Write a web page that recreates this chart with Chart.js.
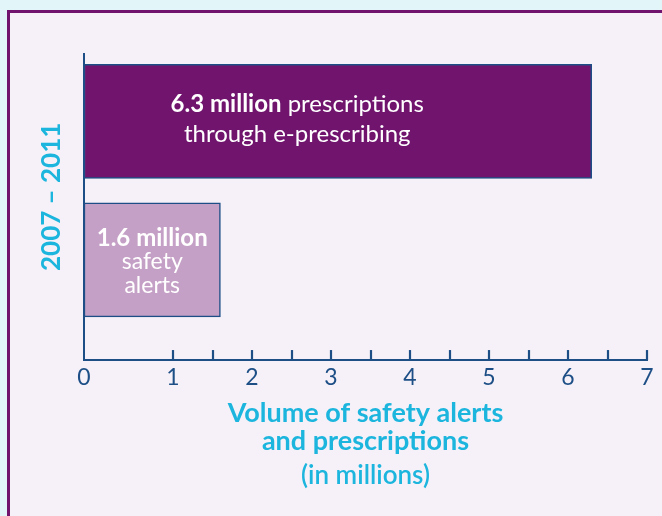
<!DOCTYPE html>
<html>
<head>
<meta charset="utf-8">
<script src="https://cdn.jsdelivr.net/npm/chart.js@4.4.1/dist/chart.umd.min.js"></script>
<style>
  html, body { margin: 0; padding: 0; background: #e2f5f9; overflow: hidden; }
  #frame { position: absolute; left: 7px; top: 10px; width: 720px; height: 620px;
           border: 3px solid #70146e; background: #f6f1f8; }
  #c { position: absolute; left: 0; top: 0; }
</style>
</head>
<body>
<div id="frame"></div>
<canvas id="c" width="662" height="516"></canvas>
<script>
// ---- data ----
const categories = ['prescriptions through e-prescribing', 'safety alerts'];
const values = [6.3, 1.6];                       // millions, 2007 – 2011
const barColors = ['#70146e', '#c5a0c6'];
const majorTicks = [0, 1, 2, 3, 4, 5, 6, 7];
const minorTicks = [1.5, 2.5, 3.5, 4.5, 5.5, 6.5];
const labelBold = ['6.3 million', '1.6 million'];
const labelRest = [[' prescriptions', 'through e-prescribing'], ['safety', 'alerts']];
const yTitle = '2007 – 2011';
const xTitle = ['Volume of safety alerts', 'and prescriptions'];
const xSubTitle = '(in millions)';

const BLUE = '#1d4f86';
const CYAN = '#1cb5dd';
const FONT = 'Lato, "Open Sans", sans-serif';
const X_MIN = -0.127;   // axis origin in the original sits a little left of the "1" spacing

const tickMarks = {
  id: 'tickMarks',
  afterDatasetsDraw(chart) {
    const xs = chart.scales.x, ctx = chart.ctx;
    const bottom = chart.chartArea.bottom;
    ctx.save();
    ctx.strokeStyle = BLUE;
    ctx.lineWidth = 2.2;
    majorTicks.concat(minorTicks).forEach(v => {
      if (v === 0) return;
      const px = Math.round(xs.getPixelForValue(v));
      ctx.beginPath();
      ctx.moveTo(px, bottom);
      ctx.lineTo(px, bottom - 10);
      ctx.stroke();
    });
    ctx.restore();
  }
};

// y-axis title, set a little above the axis centre as in the original
const yAxisTitle = {
  id: 'yAxisTitle',
  afterDraw(chart) {
    const ctx = chart.ctx, ys = chart.scales.y;
    const cy = ys.getPixelForValue(0.545);
    ctx.save();
    ctx.translate(ys.left - 32, cy);
    ctx.rotate(-Math.PI / 2);
    ctx.fillStyle = CYAN;
    ctx.font = '700 26px ' + FONT;
    ctx.textAlign = 'center';
    ctx.textBaseline = 'middle';
    ctx.fillText(yTitle, 0, 0);
    ctx.restore();
  }
};

const barText = {
  id: 'barText',
  afterDatasetsDraw(chart) {
    const ctx = chart.ctx;
    const bars = chart.getDatasetMeta(0).data;
    ctx.save();
    ctx.fillStyle = '#ffffff';
    ctx.textBaseline = 'alphabetic';
    // bar 1
    {
      const b = bars[0];
      const cx = b.base + (b.x - b.base) * 0.42;
      const cy = b.y;
      const boldF = '700 24px ' + FONT, regF = '400 24px ' + FONT;
      ctx.font = boldF; const w1 = ctx.measureText(labelBold[0]).width;
      ctx.font = regF; const w2 = ctx.measureText(labelRest[0][0]).width;
      const start = cx - (w1 + w2) / 2;
      ctx.textAlign = 'left';
      ctx.font = boldF; ctx.fillText(labelBold[0], start, cy - 9);
      ctx.font = regF; ctx.fillText(labelRest[0][0], start + w1, cy - 9);
      ctx.textAlign = 'center';
      ctx.fillText(labelRest[0][1], cx, cy + 21);
    }
    // bar 2
    {
      const b = bars[1];
      const cx = (b.base + b.x) / 2;
      const cy = b.y;
      ctx.textAlign = 'center';
      ctx.font = '700 24px ' + FONT; ctx.fillText(labelBold[1], cx, cy - 14);
      ctx.font = '400 23px ' + FONT;
      ctx.fillText(labelRest[1][0], cx, cy + 9);
      ctx.fillText(labelRest[1][1], cx, cy + 33);
    }
    ctx.restore();
  }
};

new Chart(document.getElementById('c'), {
  type: 'bar',
  data: {
    datasets: [{
      label: 'Volume',
      data: values.map((v, i) => ({ x: v, y: i })),
      backgroundColor: barColors,
      borderColor: BLUE,
      borderWidth: 1.5,
      borderSkipped: false,
      barThickness: 114,
      base: X_MIN
    }]
  },
  options: {
    indexAxis: 'y',
    responsive: false,
    animation: false,
    devicePixelRatio: 1,
    layout: { padding: { left: 84, right: 15, top: 54, bottom: 0 } },
    plugins: {
      legend: { display: false },
      tooltip: { enabled: false },
      title: {
        display: true, position: 'bottom', fullSize: false, text: xSubTitle, color: CYAN,
        font: { family: FONT, size: 26, weight: '600', lineHeight: 1.2 },
        padding: { top: 4, bottom: 25 }
      }
    },
    scales: {
      x: {
        type: 'linear', min: X_MIN, max: 7,
        afterBuildTicks(scale) {
          scale.ticks = [X_MIN].concat(majorTicks.filter(v => v > 0)).map(v => ({ value: v }));
        },
        ticks: {
          color: BLUE, padding: 4, maxRotation: 0, autoSkip: false,
          font: { family: FONT, size: 23, weight: '400' },
          callback: (v) => (v === X_MIN ? '0' : String(v))
        },
        grid: { display: false, drawTicks: false },
        border: { display: true, color: BLUE, width: 2 },
        title: {
          display: true, text: xTitle, color: CYAN,
          font: { family: FONT, size: 27, weight: '700', lineHeight: 1.04 },
          padding: { top: 4, bottom: 0 }
        }
      },
      y: {
        type: 'linear', reverse: true, offset: false, min: -0.487, max: 1.724,
        ticks: { display: false },
        grid: { display: false, drawTicks: false, offset: false },
        border: { display: true, color: BLUE, width: 2 },
        title: { display: false }
      }
    }
  },
  plugins: [tickMarks, barText, yAxisTitle]
});
</script>
</body>
</html>
